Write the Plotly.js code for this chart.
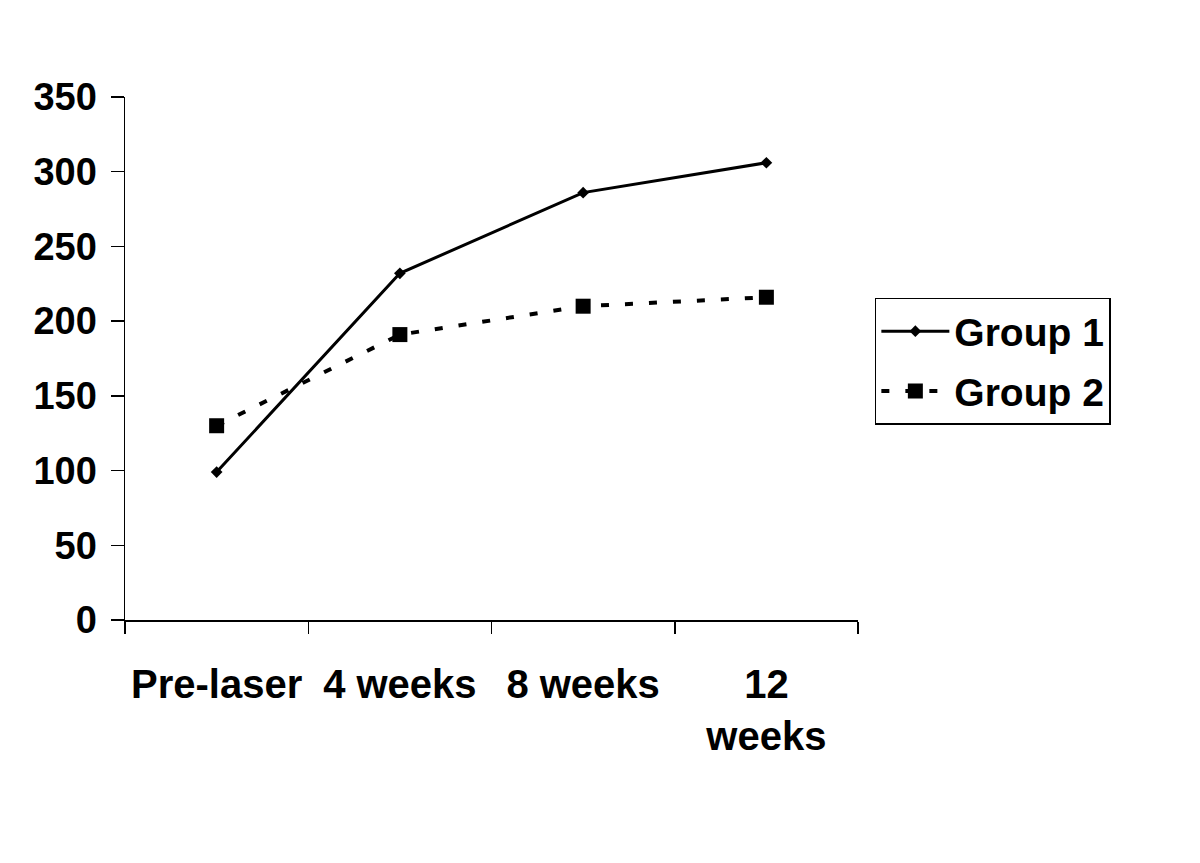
<!DOCTYPE html>
<html>
<head>
<meta charset="utf-8">
<script src="https://cdn.plot.ly/plotly-3.0.1.min.js"></script>
<style>html,body{margin:0;padding:0;background:#fff;}#chart{width:1200px;height:863px;}</style>
</head>
<body>
<div id="chart"></div>
<script>
const categories = ["Pre-laser", "4 weeks", "8 weeks", "12<br>weeks"];
const group1 = [99, 232, 286, 306];
const group2 = [130, 191, 210, 216];
const yTicks = [0, 50, 100, 150, 200, 250, 300, 350];

const fontFam = "Liberation Sans, Arial, sans-serif";

const traces = [
  {
    x: categories, y: group1, name: "Group 1", type: "scatter", mode: "lines+markers",
    legendgroup: "g1",
    line: {color: "#000", width: 3},
    marker: {symbol: "diamond", size: 9, color: "#000"}
  },
  {
    x: categories, y: group2, name: "Group 2", type: "scatter", mode: "lines+markers",
    legendgroup: "g2",
    line: {color: "#000", width: 4, dash: "8px,16px"},
    marker: {symbol: "square", size: 15, color: "#000"}
  }
];

const layout = {
  width: 1200, height: 863,
  margin: {l: 125, r: 342, t: 97, b: 243},
  paper_bgcolor: "#fff", plot_bgcolor: "#fff",
  showlegend: true,
  font: {family: fontFam, color: "#000"},
  xaxis: {
    type: "category", range: [-0.5, 3.5],
    showline: true, linecolor: "#000", linewidth: 1.5,
    ticks: "outside", tickson: "boundaries", ticklen: 12, tickwidth: 1.5, tickcolor: "#000",
    showgrid: false, zeroline: false,
    tickfont: {family: fontFam, size: 40, weight: 700, color: "#000"},
    ticklabelstandoff: 28
  },
  yaxis: {
    range: [0, 350], tickvals: yTicks, ticktext: yTicks.map(String),
    showline: true, linecolor: "#000", linewidth: 1.5,
    ticks: "outside", ticklen: 13, tickwidth: 1.5, tickcolor: "#000",
    showgrid: false, zeroline: false,
    tickfont: {family: fontFam, size: 38, weight: 700, color: "#000"},
    ticklabelstandoff: 6
  },
  legend: {
    x: 1.023, xanchor: "left", y: 0.616, yanchor: "top",
    bordercolor: "#000", borderwidth: 1.5, bgcolor: "#fff",
    font: {family: fontFam, size: 39, weight: 700, color: "#000"},
    itemwidth: 68, traceorder: "grouped", tracegroupgap: 6
  }
};

Plotly.newPlot("chart", traces, layout, {displayModeBar: false, staticPlot: true});
</script>
</body>
</html>
